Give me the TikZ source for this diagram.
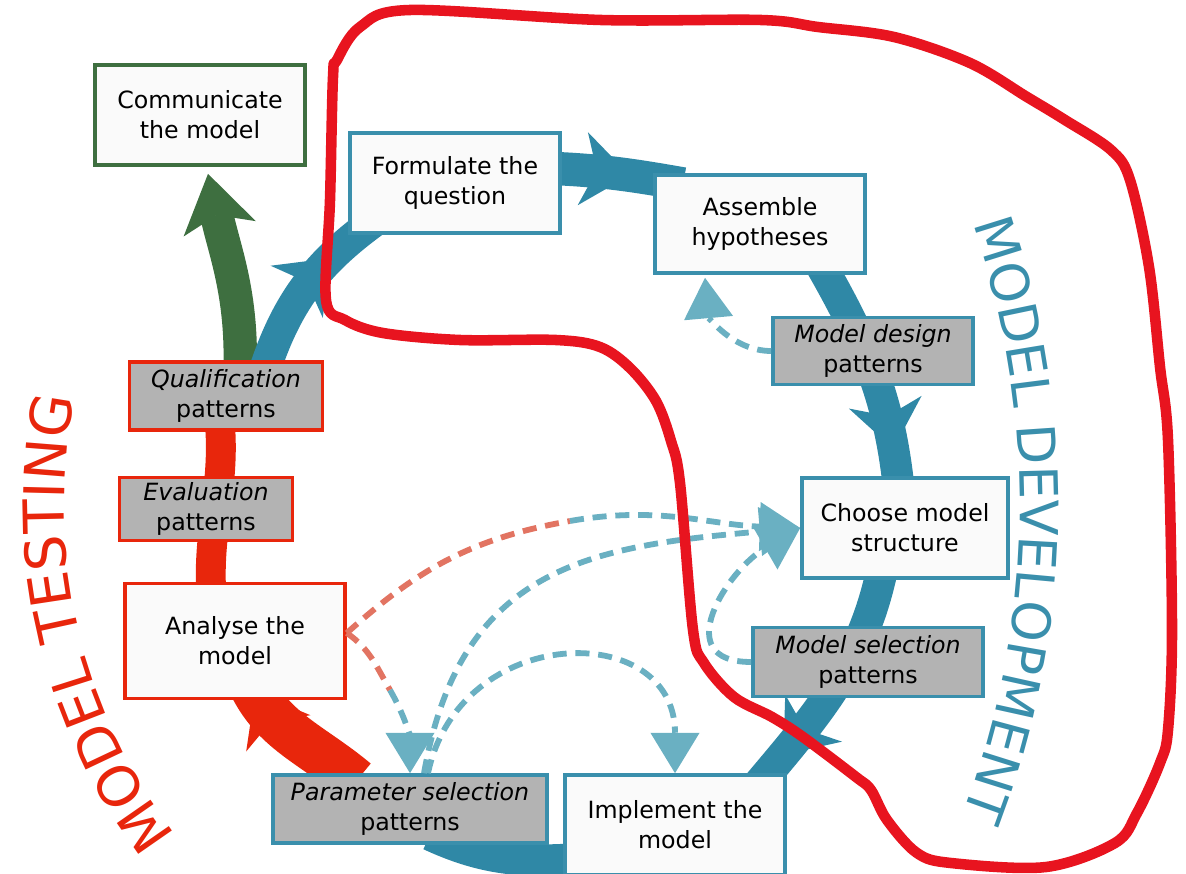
\documentclass[tikz,border=0pt]{standalone}
\usepackage{fontspec}
\setmainfont{DejaVu Sans}
\usetikzlibrary{arrows.meta,calc,decorations.markings,decorations.text}

\definecolor{devblue}{HTML}{2F88A6}
\definecolor{boxblue}{HTML}{3A8FAC}
\definecolor{testred}{HTML}{E8260C}
\definecolor{commgreen}{HTML}{3E6F40}
\definecolor{dashblue}{HTML}{6AB0C2}
\definecolor{dashred}{HTML}{E27462}
\definecolor{patgray}{HTML}{B3B3B3}
\definecolor{boxwhite}{HTML}{FAFAFA}
\definecolor{markred}{HTML}{E8141F}

\pgfdeclarelayer{bg}
\pgfsetlayers{bg,main}

\tikzset{
  task/.style={draw, line width=2.1pt, fill=boxwhite, align=center, inner sep=2pt,
    font=\fontsize{13.5}{17}\selectfont, minimum width=4.2cm, minimum height=2cm},
  devtask/.style={task, draw=boxblue},
  testtask/.style={task, draw=testred},
  devpat/.style={devtask, fill=patgray, minimum height=1.36cm},
  testpat/.style={testtask, fill=patgray, minimum height=1.3cm},
  flow/.style={line width=#1},
  midtip/.style={postaction={decorate}, decoration={markings,
      mark=at position #1 with {\arrow{Stealth[length=27pt,width=42pt,inset=8pt,line width=0pt]}}}},
  hint/.style={line width=3.3pt, dash pattern=on 8pt off 5pt},
  hinttip/.style={hint, draw=dashblue, -{Triangle[width=28pt,length=23pt,line width=0pt]}},
}

\begin{document}
\begin{tikzpicture}[x=0.02cm, y=0.02cm]
  \useasboundingbox (0,0) rectangle (1186,873);

  \node[task, draw=commgreen] (comm) at (200,758) {Communicate\\the model};
  \node[devtask] (form) at (455,690) {Formulate the\\question};
  \node[devtask, minimum height=1.96cm] (assem) at (760,649) {Assemble\\hypotheses};
  \node[devpat, minimum width=4cm, minimum height=1.34cm] (mdesign) at (873,522) {\textit{Model design}\\patterns};
  \node[devtask, minimum width=4.12cm] (choose) at (905,345) {Choose model\\structure};
  \node[devpat, minimum width=4.6cm, minimum height=1.38cm] (msel) at (868,211) {\textit{Model selection}\\patterns};
  \node[devtask, minimum width=4.4cm] (impl) at (675,48) {Implement the\\model};
  \node[devpat, minimum width=5.48cm, minimum height=1.36cm] (psel) at (410,64) {\textit{Parameter selection}\\patterns};
  \node[testtask, minimum width=4.4cm, minimum height=2.3cm] (analyse) at (235,232) {Analyse the\\model};
  \node[testpat, minimum width=3.46cm, minimum height=1.26cm] (evalp) at (206,364) {\textit{Evaluation}\\patterns};
  \node[testpat, minimum width=3.86cm, minimum height=1.36cm] (qual) at (226,477) {\textit{Qualification}\\patterns};

  \begin{pgfonlayer}{bg}
    \draw[flow=26pt, testred, midtip=0.88] ($(psel.north west)+(85,-8)$) to[out=140,in=-68] ($(analyse.south)+(12,25)$);
    \draw[flow=17pt, testred] ($(analyse.north)+(-22,-30)$) to[out=97,in=-82] ($(qual.south)+(-8,25)$);
    \draw[flow=19pt, commgreen, -{Stealth[length=32pt,width=42pt,inset=8pt,line width=0pt]}] ($(qual.north)+(14,-12)$) to[out=88,in=-78] ($(comm.south)+(8,-7)$);
    \draw[flow=18pt, devblue, midtip=0.66] ($(qual.north)+(38,-12)$) to[out=72,in=-145] ($(form.south west)+(35,20)$);
    \draw[flow=19pt, devblue, midtip=0.62] ($(form.east)+(-20,15)$) to[out=-2,in=170] ($(assem.west)+(30,40)$);
    \draw[flow=18pt, devblue, midtip=0.8] ($(assem.south)+(55,20)$) to[out=-60,in=95] ($(choose.north)+(-5,-25)$);
    \draw[flow=18pt, devblue, midtip=0.8] ($(choose.south)+(-20,25)$) to[out=-100,in=50] ($(impl.north east)+(-40,-25)$);
    \draw[flow=18pt, devblue] ($(impl.south west)+(40,20)$) to[out=185,in=-25] ($(psel.south)+(20,10)$);
  \end{pgfonlayer}

  \coordinate (j1) at (570,352);
  \coordinate (j2) at (390,183);
  \draw[hinttip] (mdesign.west) to[out=180,in=-85] ($(assem.south)+(-55,-3)$);
  \draw[hint, dashred] ($(analyse.east)+(0,8)$) to[out=42,in=190] (j1);
  \draw[hinttip] (j1) to[out=10,in=178] (choose.west);
  \draw[hint, dashred] ($(analyse.east)+(0,8)$) to[out=-35,in=120] (j2);
  \draw[hinttip] (j2) to[out=-60,in=90] (psel.north);
  \draw[hinttip] ($(psel.north)+(14,0)$) to[out=80,in=185,looseness=1.2] (choose.west);
  \draw[hinttip] ($(psel.north)+(18,0)$) to[out=78,in=90,looseness=1.6] (impl.north);
  \draw[hinttip] (msel.west) to[out=180,in=210,looseness=1.5] (choose.west);

  \path[decorate, decoration={text along path, text align=center,
      text={|\color{testred}\fontsize{32}{32}\selectfont|MODEL TESTING}}]
    ($(609,368)+(219:10.9cm)$) arc[start angle=219, end angle=167, radius=10.9cm];
  \path[decorate, decoration={text along path, text align=center,
      text={|\color{boxblue}\fontsize{30}{30}\selectfont|MODEL DEVELOPMENT}}]
    ($(150,368)+(20:17.4cm)$) arc[start angle=20, end angle=-22, radius=17.4cm];

  \draw[markred, line width=6pt, line join=round] plot[smooth cycle, tension=0.55] coordinates {
    (600,526) (630,505) (656,472) (671,432) (680,390) (693,243) (704,210) (734,176)
    (772,156) (803,136) (856,96) (871,83) (887,53) (917,20) (951,10) (1046,6)
    (1115,30) (1137,60) (1160,110) (1168,143) (1172,243) (1168,433) (1160,506) (1149,606)
    (1130,693) (1111,723) (1065,753) (1027,776) (970,810) (894,836) (818,846) (761,853)
    (601,853) (410,863) (360,846) (337,813) (333,796) (330,673) (326,573) (345,553)
    (383,540) (460,533) (556,533)};
\end{tikzpicture}
\end{document}
